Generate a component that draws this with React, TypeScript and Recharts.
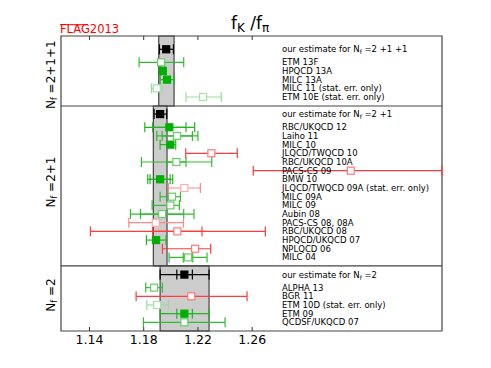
import React from "react";
import {
  ScatterChart,
  Scatter,
  XAxis,
  YAxis,
  ErrorBar,
  ReferenceArea,
  ReferenceLine,
} from "recharts";

const FONT = '"DejaVu Sans", sans-serif';

const xTicks = [1.14, 1.18, 1.22, 1.26];

// Nf = 2+1+1
const topNames = ["ETM 13F", "HPQCD 13A", "MILC 13A", "MILC 11 (stat. err. only)", "ETM 10E (stat. err. only)"];
const topValues = [1.1928, 1.1941, 1.1972, 1.1896, 1.2238];
const topTotal = [[1.1766, 1.2095], [1.1926, 1.1956], [1.1921, 1.2024], [1.1857, 1.1936], [1.2112, 1.2372]];
const topStat = [null, null, null, null, null];
const topKind = ["ok", "avg", "avg", "pale", "pale"];

// Nf = 2+1
const midNames = [
  "RBC/UKQCD 12", "Laiho 11", "MILC 10", "JLQCD/TWQCD 10", "RBC/UKQCD 10A", "PACS-CS 09", "BMW 10",
  "JLQCD/TWQCD 09A (stat. err. only)", "MILC 09A", "MILC 09", "Aubin 08", "PACS-CS 08, 08A",
  "RBC/UKQCD 08", "HPQCD/UKQCD 07", "NPLQCD 06", "MILC 04",
];
const midValues = [1.1989, 1.2046, 1.1997, 1.2299, 1.2041, 1.3327, 1.1921, 1.21, 1.2009, 1.1997, 1.1936, 1.1889, 1.2048, 1.1891, 1.2179, 1.2127];
const midTotal = [
  [1.1808, 1.2176], [1.1896, 1.22], [1.1921, 1.2036], [1.211, 1.249], [1.1783, 1.2302], [1.2608, 1.4],
  [1.183, 1.2014], [1.1982, 1.2218], [1.1921, 1.2071], [1.1862, 1.2063], [1.1702, 1.2171], [1.169, 1.2093],
  [1.1407, 1.2697], [1.182, 1.1965], [1.1938, 1.2294], [1.1987, 1.2267],
];
const midStat = [
  [1.1866, 1.2112], [1.1936, 1.2159], null, null, [1.197, 1.2112], null, [1.1847, 1.1995], null,
  null, null, [1.1776, 1.2095], null, [1.1866, 1.223], null, null, [1.2092, 1.2162],
];
const midKind = ["avg", "ok", "avg", "fail", "ok", "fail", "avg", "failPale", "ok", "ok", "ok", "failPale", "fail", "avg", "fail", "ok"];

// Nf = 2
const botNames = ["ALPHA 13", "BGR 11", "ETM 10D (stat. err. only)", "ETM 09", "QCDSF/UKQCD 07"];
const botValues = [1.1877, 1.2151, 1.1899, 1.21, 1.21];
const botTotal = [[1.1815, 1.1938], [1.1744, 1.2562], [1.1823, 1.1982], [1.1921, 1.2282], [1.1798, 1.24]];
const botStat = [null, null, null, [1.2044, 1.2159], null];
const botKind = ["ok", "fail", "pale", "avg", "ok"];

// FLAG estimates: value, total range, stat range, band
const estNf = ["2+1+1", "2+1", "2"];
const estValues = [1.1966, 1.1921, 1.21];
const estTotal = [[1.1916, 1.2019], [1.1877, 1.197], [1.1921, 1.2282]];
const estStat = [null, null, [1.2044, 1.2159]];
const estBand = [[1.1911, 1.2024], [1.1871, 1.1972], [1.1921, 1.2282]];

// layout in row units (y axis, top down)
const panelEdges = [0, 8.07, 26.5, 34];
const estRow = [1.53, 9.0, 27.5];
const firstRow = [3.03, 10.52, 29.0];
const labelX = 1.282;
const xDomain = [1.119, 1.4];

const kindStyle: Record<string, { bar: string; edge: string; fill: string }> = {
  avg: { bar: "#22b522", edge: "#00b000", fill: "#00b000" },
  ok: { bar: "#33bb33", edge: "#66cc66", fill: "#ffffff" },
  pale: { bar: "#99dd99", edge: "#aadeaa", fill: "#ffffff" },
  fail: { bar: "#ff3b3b", edge: "#ff7777", fill: "#ffffff" },
  failPale: { bar: "#ff8888", edge: "#ffaaaa", fill: "#ffffff" },
  est: { bar: "#000000", edge: "#000000", fill: "#000000" },
};

const toErr = (v: number, r: number[] | null) => (r ? [v - r[0], r[1] - v] : undefined);

const buildRows = (values: number[], total: number[][], stat: (number[] | null)[], kinds: string[], start: number) =>
  values.map((v, i) => ({ x: v, y: start + i, err: toErr(v, total[i]), stat: toErr(v, stat[i]), kind: kinds[i] }));

const allRows = [
  ...buildRows(topValues, topTotal, topStat, topKind, firstRow[0]),
  ...buildRows(midValues, midTotal, midStat, midKind, firstRow[1]),
  ...buildRows(botValues, botTotal, botStat, botKind, firstRow[2]),
];
const estRows = estValues.map((v, i) => ({ x: v, y: estRow[i], err: toErr(v, estTotal[i]), stat: toErr(v, estStat[i]), kind: "est" }));

const labelRows = [
  ...[topNames, midNames, botNames].flatMap((names, p) => names.map((t, i) => ({ x: labelX, y: firstRow[p] + i, text: t }))),
  ...estNf.map((nf, i) => ({ x: labelX, y: estRow[i], text: "", nf })),
];

const kinds = ["ok", "pale", "fail", "failPale", "avg", "est"];

const squareShape = (kind: string) => (props: any) => {
  const s = kindStyle[kind];
  const { cx, cy } = props;
  if (cx == null || cy == null) return <g />;
  return <rect x={cx - 3.5} y={cy - 3.5} width={7} height={7} fill={s.fill} stroke={s.edge} strokeWidth={1.2} />;
};

const labelShape = (props: any) => {
  const { cx, cy, payload } = props;
  if (payload.nf) {
    return (
      <text x={cx} y={cy} dy="0.36em" fontSize={8.5} fontFamily={FONT} fill="#000">
        <tspan>our estimate for N</tspan>
        <tspan fontSize={6} dy={2}>f</tspan>
        <tspan dy={-2}> ={payload.nf.split("+").join(" +")}</tspan>
      </text>
    );
  }
  return (
    <text x={cx} y={cy} dy="0.36em" fontSize={8.5} fontFamily={FONT} fill="#000">
      {payload.text}
    </text>
  );
};

const sideLabels = [
  { nf: "2+1+1", cy: 66.7 },
  { nf: "2+1", cy: 174 },
  { nf: "2", cy: 287 },
];

export default function App() {
  return (
    <div style={{ position: "relative", width: 483, height: 352 }}>
      <ScatterChart width={483} height={352} margin={{ top: 27, right: 49, bottom: 4, left: 53 }}>
        <XAxis
          dataKey="x"
          type="number"
          domain={xDomain}
          ticks={xTicks}
          allowDataOverflow
          axisLine={false}
          tickSize={-4}
          tickMargin={8}
          height={25}
          tickLine={{ stroke: "#333" }}
          tick={{ fill: "#000", fontSize: 12.5, fontFamily: FONT }}
          tickFormatter={(v: number) => v.toFixed(2)}
        />
        <XAxis
          xAxisId="top"
          orientation="top"
          dataKey="x"
          type="number"
          domain={xDomain}
          ticks={xTicks}
          allowDataOverflow
          axisLine={false}
          tickSize={-4}
          height={1}
          tick={() => <g />}
          tickLine={{ stroke: "#333" }}
        />
        <YAxis dataKey="y" type="number" domain={[0, 34]} reversed hide allowDataOverflow />

        {estBand.map((b, i) => (
          <ReferenceArea
            key={"band" + i}
            x1={b[0]}
            x2={b[1]}
            y1={panelEdges[i]}
            y2={panelEdges[i + 1]}
            fill="#cccccc"
            fillOpacity={1}
            stroke="#444"
            strokeWidth={1.2}
          />
        ))}
        {panelEdges.slice(1, 3).map((e) => (
          <ReferenceLine key={"div" + e} y={e} stroke="#444" strokeWidth={1.2} />
        ))}
        <ReferenceArea x1={xDomain[0]} x2={xDomain[1]} y1={0} y2={34} fill="none" stroke="#444" strokeWidth={1.2} />

        {kinds.map((k) => {
          const data = k === "est" ? estRows : allRows.filter((r) => r.kind === k);
          const s = kindStyle[k];
          return (
            <Scatter key={k} data={data} shape={squareShape(k)} isAnimationActive={false}>
              <ErrorBar dataKey="err" direction="x" width={5} stroke={s.bar} strokeWidth={1.2} />
              <ErrorBar dataKey="stat" direction="x" width={5} stroke={s.bar} strokeWidth={1.2} />
            </Scatter>
          );
        })}
        <Scatter data={labelRows} shape={labelShape} isAnimationActive={false} />
      </ScatterChart>

      <svg width={483} height={352} style={{ position: "absolute", left: 0, top: 0, pointerEvents: "none" }}>
        <text x={242} y={21.3} textAnchor="middle" fontSize={17} fontFamily={FONT} fill="#000">
          <tspan>f</tspan>
          <tspan fontSize={12} dy={3}>K</tspan>
          <tspan dy={-3}> /f</tspan>
          <tspan fontSize={12} dy={3}>π</tspan>
        </text>
        <text x={52} y={25.3} fontSize={11.5} fontFamily={FONT} fill="#ff0000">
          FLAG2013
        </text>
        <line x1={52} x2={80} y1={16.7} y2={16.7} stroke="#ff0000" strokeWidth={1} />
        {sideLabels.map((l) => (
          <text
            key={l.nf}
            x={43}
            y={l.cy}
            transform={`rotate(-90 43 ${l.cy})`}
            textAnchor="middle"
            dy="0.36em"
            fontSize={12}
            fontFamily={FONT}
            fill="#000"
          >
            <tspan>N</tspan>
            <tspan fontSize={8} dy={2}>f</tspan>
            <tspan dy={-2}> ={l.nf}</tspan>
          </text>
        ))}
      </svg>
    </div>
  );
}
